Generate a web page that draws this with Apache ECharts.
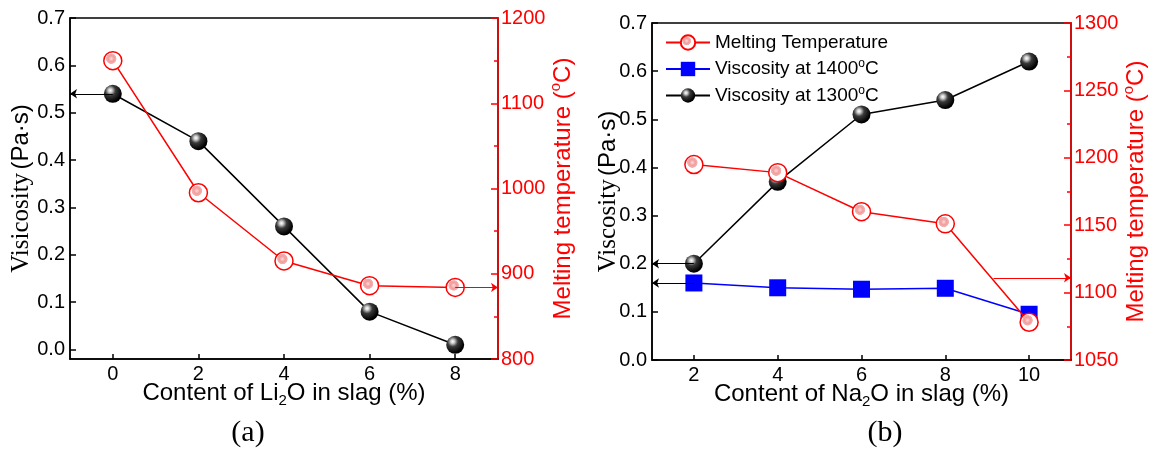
<!DOCTYPE html>
<html>
<head>
<meta charset="utf-8">
<script src="https://cdn.jsdelivr.net/npm/echarts@6.0.0/dist/echarts.min.js"></script>
<style>
  html, body { margin: 0; padding: 0; background: #fff; }
  #chart { width: 1155px; height: 455px; }
</style>
</head>
<body>
<div id="chart"></div>
<script>
// (a) Li2O series
const liContent = [0, 2, 4, 6, 8];
const liViscosity = [0.54, 0.44, 0.26, 0.08, 0.01];
const liMeltTemp = [1150, 995, 915, 886, 884];

// (b) Na2O series
const naContent = [2, 4, 6, 8, 10];
const naVisc1300 = [0.20, 0.37, 0.51, 0.54, 0.62];
const naVisc1400 = [0.16, 0.15, 0.147, 0.149, 0.095];
const naMeltTemp = [1195, 1189, 1160, 1151, 1078];
const naTempArrowLevel = 1111;

// tick positions
const viscTicks = [0, 0.1, 0.2, 0.3, 0.4, 0.5, 0.6, 0.7];
const liTicks = [0, 2, 4, 6, 8];
const naTicks = [2, 4, 6, 8, 10];

const SANS = 'Liberation Sans';
const SERIF = 'Liberation Serif';
const RED = '#ff0000';

const pairs = (xs, ys) => xs.map((x, i) => [x, ys[i]]);

const ballFill = {
  type: 'radial', x: 0.36, y: 0.32, r: 0.64,
  colorStops: [
    { offset: 0, color: '#ffffff' },
    { offset: 0.16, color: '#d0d0d0' },
    { offset: 0.45, color: '#3a3a3a' },
    { offset: 1, color: '#000000' }
  ]
};
// hollow ring with a small pink glint
const ringFill = {
  type: 'radial', x: 0.42, y: 0.4, r: 0.5,
  colorStops: [
    { offset: 0, color: '#fcdada' },
    { offset: 0.3, color: '#f29c9c' },
    { offset: 0.5, color: '#f5b0b0' },
    { offset: 0.56, color: '#ffffff' },
    { offset: 1, color: '#ffffff' }
  ]
};

const axisText = { fontFamily: SANS, fontSize: 20, color: '#000' };
const nameRich = {
  t: { fontFamily: SANS, fontSize: 24, lineHeight: 30 },
  s: { fontFamily: SERIF, fontSize: 25, lineHeight: 30 },
  sub: { fontFamily: SANS, fontSize: 15, lineHeight: 16, verticalAlign: 'bottom' },
  sup: { fontFamily: SANS, fontSize: 15, lineHeight: 19, verticalAlign: 'top' }
};

function xAxisFor(gridIndex, min, max, ticks, nameText) {
  return {
    type: 'value', gridIndex, min, max, position: 'bottom',
    axisLine: { show: true, onZero: false, lineStyle: { color: '#000', width: 1.5 } },
    axisTick: { show: true, inside: true, length: 5, customValues: ticks, lineStyle: { color: '#000', width: 1.5 } },
    axisLabel: { customValues: ticks, margin: 5, ...axisText },
    splitLine: { show: false },
    name: nameText, nameLocation: 'middle', nameGap: 19, nameMoveOverlap: false,
    nameTextStyle: { color: '#000', rich: nameRich }
  };
}

function viscAxis(gridIndex, min, nameText, gap) {
  return {
    type: 'value', gridIndex, min, max: 0.7, position: 'left',
    axisLine: { show: true, onZero: false, lineStyle: { color: '#000', width: 1.5 } },
    axisTick: { show: true, inside: true, length: 6, customValues: viscTicks, lineStyle: { color: '#000', width: 1.5 } },
    axisLabel: { customValues: viscTicks, margin: 5, formatter: v => v.toFixed(1), ...axisText },
    splitLine: { show: false },
    name: nameText, nameLocation: 'middle', nameGap: gap, nameRotate: 90, nameMoveOverlap: false,
    nameTextStyle: { color: '#000', rich: nameRich }
  };
}

function tempAxis(gridIndex, min, max, interval) {
  return {
    type: 'value', gridIndex, min, max, interval, position: 'right',
    axisLine: { show: true, onZero: false, lineStyle: { color: RED, width: 1.5 } },
    axisTick: { show: true, inside: true, length: 7, lineStyle: { color: RED, width: 1.5 } },
    minorTick: { show: true, splitNumber: 2, length: 4, lineStyle: { color: RED, width: 1.5 } },
    axisLabel: { margin: 3, formatter: v => String(v), ...axisText, color: RED },
    splitLine: { show: false },
    name: '{t|Melting temperature (}{sup|o}{t|C)}',
    nameLocation: 'middle', nameGap: 50, nameRotate: 90, nameMoveOverlap: false,
    nameTextStyle: { color: RED, rich: nameRich }
  };
}

function arrow(from, to, color) {
  return {
    silent: true, animation: false,
    symbol: ['none', 'arrow'], symbolSize: 7,
    label: { show: false },
    lineStyle: { color, width: 1.2, type: 'solid' },
    itemStyle: { color },
    emphasis: { disabled: true },
    data: [[{ coord: from }, { coord: to }]]
  };
}

const chart = echarts.init(document.getElementById('chart'), null, { renderer: 'canvas' });

const gridBase = { show: true, borderColor: '#000', borderWidth: 1.5, backgroundColor: 'transparent', containLabel: false, outerBoundsMode: 'none' };

chart.setOption({
  animation: false,
  backgroundColor: '#fff',
  grid: [
    { ...gridBase, left: 70, top: 18, width: 428, height: 341 },
    { ...gridBase, left: 652, top: 23, width: 419, height: 337 }
  ],
  xAxis: [
    xAxisFor(0, -1, 9, liTicks, '{t|Content of Li}{sub|2}{t|O in slag (%)}'),
    xAxisFor(1, 1, 11, naTicks, '{t|Content of Na}{sub|2}{t|O in slag (%)}')
  ],
  yAxis: [
    viscAxis(0, -0.02, '{s|Visicosity} {t|(Pa·s)}', 34),
    tempAxis(0, 800, 1200, 100),
    viscAxis(1, 0, '{s|Viscosity} {t|(Pa·s)}', 29),
    tempAxis(1, 1050, 1300, 50)
  ],
  legend: {
    data: ['Melting Temperature', 'Viscosity at 1400°C', 'Viscosity at 1300°C'],
    orient: 'vertical', left: 660, top: 28,
    itemWidth: 44, itemHeight: 18, itemGap: 6,
    selectedMode: false,
    formatter: name => '{t|' + name.replace('°C', '}{sup|o}{t|C') + '}',
    textStyle: {
      color: '#000',
      rich: {
        t: { fontFamily: SANS, fontSize: 19, lineHeight: 22 },
        sup: { fontFamily: SANS, fontSize: 12, lineHeight: 13, verticalAlign: 'top' }
      }
    }
  },
  graphic: [
    { type: 'text', x: 248, y: 418, style: { text: '(a)', font: '30px "Liberation Serif"', fill: '#000', align: 'center' } },
    { type: 'text', x: 885, y: 418, style: { text: '(b)', font: '30px "Liberation Serif"', fill: '#000', align: 'center' } }
  ],
  series: [
    {
      name: 'Li2O viscosity', type: 'line', xAxisIndex: 0, yAxisIndex: 0,
      data: pairs(liContent, liViscosity),
      symbol: 'circle', symbolSize: 18,
      lineStyle: { color: '#000', width: 1.5 },
      itemStyle: { color: ballFill },
      markLine: arrow([liContent[0], liViscosity[0]], [-1, liViscosity[0]], '#000'),
      z: 3
    },
    {
      name: 'Li2O melting temperature', type: 'line', xAxisIndex: 0, yAxisIndex: 1,
      data: pairs(liContent, liMeltTemp),
      symbol: 'circle', symbolSize: 18,
      lineStyle: { color: RED, width: 1.5 },
      itemStyle: { color: ringFill, borderColor: RED, borderWidth: 1.5 },
      markLine: arrow([liContent[4], liMeltTemp[4]], [9, liMeltTemp[4]], RED),
      z: 4
    },
    {
      name: 'Viscosity at 1400°C', type: 'line', xAxisIndex: 1, yAxisIndex: 2,
      data: pairs(naContent, naVisc1400),
      symbol: 'rect', symbolSize: 17,
      lineStyle: { color: '#0000ff', width: 1.5 },
      itemStyle: { color: '#0000ff' },
      markLine: arrow([naContent[0], naVisc1400[0]], [1, naVisc1400[0]], '#000'),
      z: 2
    },
    {
      name: 'Viscosity at 1300°C', type: 'line', xAxisIndex: 1, yAxisIndex: 2,
      data: pairs(naContent, naVisc1300),
      symbol: 'circle', symbolSize: 18,
      lineStyle: { color: '#000', width: 1.5 },
      itemStyle: { color: ballFill },
      markLine: arrow([naContent[0], naVisc1300[0]], [1, naVisc1300[0]], '#000'),
      z: 3
    },
    {
      name: 'Melting Temperature', type: 'line', xAxisIndex: 1, yAxisIndex: 3,
      data: pairs(naContent, naMeltTemp),
      symbol: 'circle', symbolSize: 18,
      lineStyle: { color: RED, width: 1.5 },
      itemStyle: { color: ringFill, borderColor: RED, borderWidth: 1.5 },
      markLine: arrow([9.15, naTempArrowLevel], [11, naTempArrowLevel], RED),
      z: 4
    }
  ]
});
</script>
</body>
</html>
